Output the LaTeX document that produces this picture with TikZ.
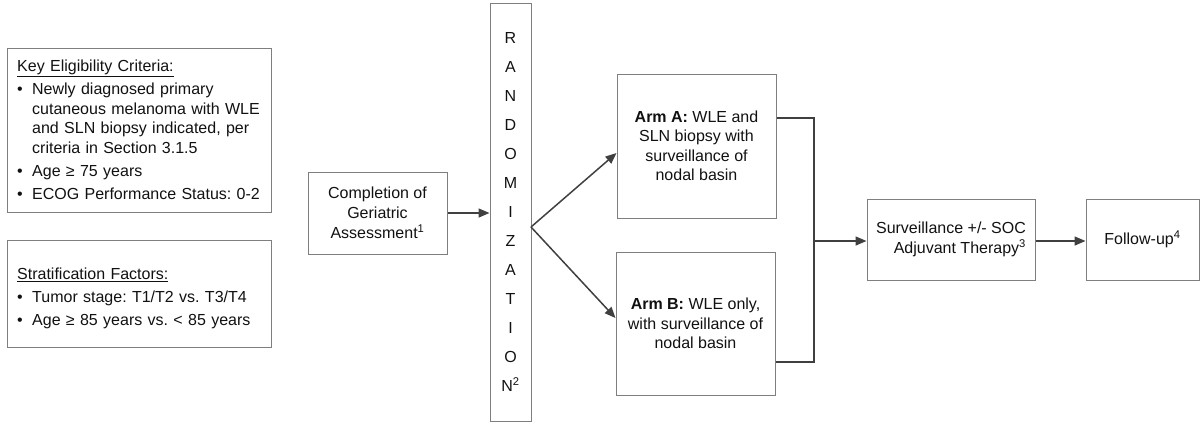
\documentclass[tikz,border=0pt]{standalone}
\usepackage{fontspec}
\setmainfont{Liberation Sans}
\usetikzlibrary{arrows.meta}
\definecolor{boxline}{HTML}{7F7F7F}
\definecolor{arrowc}{HTML}{404040}
\definecolor{txt}{HTML}{111111}
\newcommand{\bitem}[1]{\par\hangindent=15pt\hangafter=1\noindent\makebox[15pt][l]{\textbullet}#1}
\frenchspacing
\begin{document}
\begin{tikzpicture}[x=1pt,y=-1pt,
  box/.style={draw=boxline,line width=1pt,inner sep=0pt,text=txt,font=\fontsize{16}{19.5}\selectfont},
  listtext/.style={anchor=north west,inner sep=0pt,text=txt,text width=255pt,font=\fontsize{16}{19.5}\selectfont},
  conn/.style={draw=arrowc,line width=1.5pt},
  arr/.style={conn,-{Triangle[length=11pt,width=9pt]}}]
\useasboundingbox (0,0) rectangle (1202,424);
% left boxes
\node[box,minimum width=264,minimum height=164] (key) at (139,130) {};
\node[listtext] (keyt) at (17,60) {\raggedright\parskip=3.5pt\frenchspacing
\noindent\underline{Key Eligibility Criteria:}
\bitem{Newly diagnosed primary\newline cutaneous melanoma with WLE\newline and SLN biopsy indicated, per\newline criteria in Section 3.1.5}
\bitem{Age ≥ 75 years}
\bitem{ECOG Performance Status: 0-2}\par};
\node[box,minimum width=264,minimum height=107] (strat) at (139,294) {};
\node[listtext] (stratt) at (17,268) {\raggedright\parskip=3.5pt\frenchspacing
\noindent\underline{Stratification Factors:}
\bitem{Tumor stage: T1/T2 vs. T3/T4}
\bitem{Age ≥ 85 years vs. < 85 years}\par};
% flow
\node[box,minimum width=139,minimum height=82,align=center,font=\fontsize{16}{20}\selectfont] (comp) at (377.5,213) {Completion of\\Geriatric\\Assessment\textsuperscript{1}};
\node[box,minimum width=41,minimum height=418,align=center,font=\fontsize{16}{29}\selectfont] (rand) at (510.5,212) {R\\A\\N\\D\\O\\M\\I\\Z\\A\\T\\I\\O\\N\textsuperscript{2}};
\node[box,minimum width=159,minimum height=144,align=center] (armA) at (696.5,146) {\textbf{Arm A:} WLE and\\SLN biopsy with\\surveillance of\\nodal basin};
\node[box,minimum width=159,minimum height=143,align=center] (armB) at (695.5,323.5) {\textbf{Arm B:} WLE only,\\with surveillance of\\nodal basin};
\node[box,minimum width=168,minimum height=81,align=right] (surv) at (951,239.5) {Surveillance +/- SOC\\Adjuvant Therapy\textsuperscript{3}};
\node[box,minimum width=113,minimum height=81,align=center] (follow) at (1142.5,239.5) {Follow-up\textsuperscript{4}};
% connectors
\coordinate (fork) at (531,227);
\coordinate (merge) at (814,241);
\draw[arr] (comp.east) -- (rand.west |- comp.east);
\draw[arr] (fork) -- ([yshift=-7pt]armA.west);
\draw[arr] (fork) -- ([yshift=5.5pt]armB.west);
\draw[conn] ([yshift=28pt]armA.east) -| (merge);
\draw[conn] ([yshift=-38.5pt]armB.east) -| (merge);
\draw[arr] (merge) -- (surv.west |- merge);
\draw[arr] (surv.east |- merge) -- (follow.west |- merge);
\end{tikzpicture}
\end{document}
